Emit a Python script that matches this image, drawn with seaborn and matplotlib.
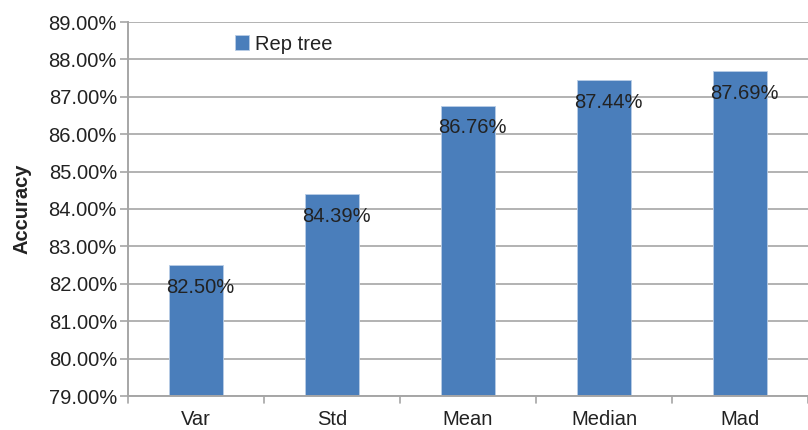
import matplotlib
matplotlib.use("Agg")
import matplotlib.pyplot as plt
from matplotlib.ticker import FuncFormatter, FixedLocator
import seaborn as sns
import pandas as pd

categories = ["Var", "Std", "Mean", "Median", "Mad"]
accuracy = [82.50, 84.39, 86.76, 87.44, 87.69]
series_name = "Rep tree"
y_ticks = [79, 80, 81, 82, 83, 84, 85, 86, 87, 88, 89]

sns.set_theme(style="white")
plt.rcParams["font.family"] = ["Liberation Sans", "DejaVu Sans"]

df = pd.DataFrame({"Method": categories, "Accuracy": accuracy, "Series": series_name})

fig = plt.figure(figsize=(8.08, 4.30), dpi=100)
ax = fig.add_axes([128 / 808, 34 / 430, 680 / 808, 374 / 430])

bar_color = "#4a7ebb"
grid_color = "#a6a6a6"
text_color = "#222222"
fs = 14.5

sns.barplot(data=df, x="Method", y="Accuracy", hue="Series", palette=[bar_color],
            width=0.4, ax=ax, saturation=1, edgecolor="#b9cde6", linewidth=0.6)

ax.set_ylim(79, 89)
ax.set_xlim(-0.5, len(categories) - 0.5)
ax.yaxis.set_major_locator(FixedLocator(y_ticks))
ax.yaxis.set_major_formatter(FuncFormatter(lambda v, p: f"{v:.2f}%"))
ax.grid(axis="y", color=grid_color, linewidth=1.2)
ax.set_axisbelow(True)

for side in ["top", "right"]:
    ax.spines[side].set_visible(False)
for side in ["left", "bottom"]:
    ax.spines[side].set_color(grid_color)
    ax.spines[side].set_linewidth(1.4)

ax.tick_params(axis="y", left=True, length=6, width=1.2, color=grid_color,
               labelsize=fs, labelcolor=text_color, pad=2)
ax.tick_params(axis="x", bottom=False, labelsize=fs, labelcolor=text_color, pad=4)

# category boundary tick marks below the axis
for b in [i - 0.5 for i in range(len(categories) + 1)]:
    ax.plot([b, b], [0, -0.018], transform=ax.get_xaxis_transform(),
            color=grid_color, lw=1.2, clip_on=False)

for i, v in enumerate(accuracy):
    ax.annotate(f"{v:.2f}%", xy=(i, v), xytext=(3, -16), textcoords="offset points",
                ha="center", va="center", fontsize=fs, color=text_color)

ax.set_xlabel("")
ax.set_ylabel("Accuracy", fontsize=fs, fontweight="bold", color=text_color, labelpad=12)

leg = ax.legend(loc="upper left", bbox_to_anchor=(0.13, 1.015), frameon=False,
                fontsize=fs, handlelength=0.7, handleheight=0.7, handletextpad=0.3,
                labelcolor=text_color)

fig.savefig("out.png", dpi=100)
